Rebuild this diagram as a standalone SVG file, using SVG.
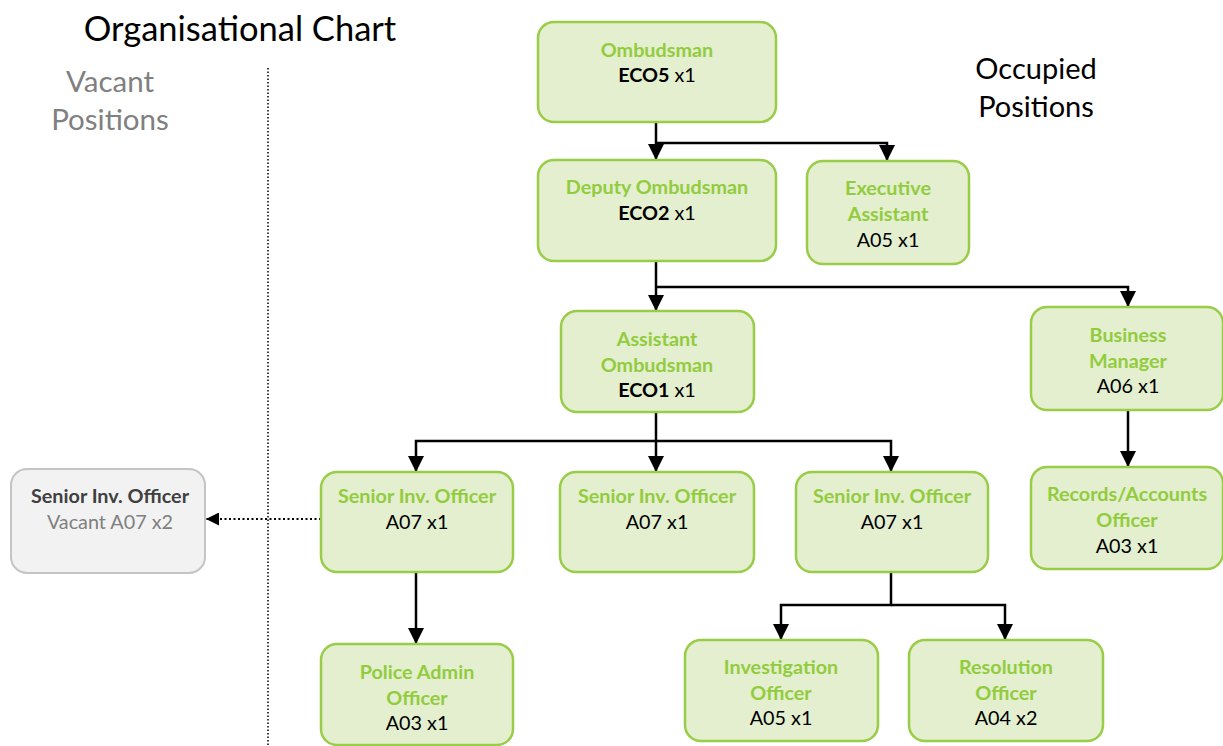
<svg xmlns="http://www.w3.org/2000/svg" width="1223" height="746" viewBox="0 0 1223 746">
<defs>
<style>
.n{fill:#e3efcf;stroke:#99cc47;stroke-width:2.5}
.v{fill:#f2f2f2;stroke:#c4c4c4;stroke-width:2}
text{font-family:Lato,"Liberation Sans",sans-serif;font-size:19.8px;text-anchor:middle}
.t{fill:#92cc3e;font-weight:bold}
.k{fill:#000}
.c{fill:none;stroke:#000;stroke-width:2.5}
.h{font-size:34.5px;fill:#000}
.hg{font-size:29.5px;fill:#808080}
.ho{font-size:29px;fill:#000}
</style>
<marker id="a" viewBox="0 0 10 10" refX="10" refY="5" markerWidth="6.5" markerHeight="6.5" orient="auto" markerUnits="strokeWidth"><path d="M0,0L10,5L0,10z" fill="#000"/></marker>
</defs>
<text class="h" x="240" y="41">Organisational Chart</text>
<text class="hg" x="110" y="92">Vacant</text>
<text class="hg" x="110" y="130">Positions</text>
<text class="ho" x="1036" y="79">Occupied</text>
<text class="ho" x="1036" y="117">Positions</text>
<line x1="268" y1="68" x2="268" y2="746" stroke="#000" stroke-width="1.5" stroke-dasharray="1.5,2"/>
<g id="connectors">
<path class="c" d="M656,122V160" marker-end="url(#a)"/>
<path class="c" d="M656,143H887V161" marker-end="url(#a)"/>
<path class="c" d="M656,261V311" marker-end="url(#a)"/>
<path class="c" d="M656,287H1128V307" marker-end="url(#a)"/>
<path class="c" d="M656,412V472" marker-end="url(#a)"/>
<path class="c" d="M656,441H416V472" marker-end="url(#a)"/>
<path class="c" d="M656,441H891V472" marker-end="url(#a)"/>
<path class="c" d="M1128,410V467" marker-end="url(#a)"/>
<path class="c" d="M416,572V644" marker-end="url(#a)"/>
<path class="c" d="M891,572V605H781V640" marker-end="url(#a)"/>
<path class="c" d="M891,605H1005V640" marker-end="url(#a)"/>
<path d="M321,519H206" fill="none" stroke="#000" stroke-width="2" stroke-dasharray="2,2.5" marker-end="url(#a)"/>
</g>
<g id="ombudsman"><rect class="n" x="538" y="22" width="238" height="100" rx="16"/><text class="t" x="657" y="57">Ombudsman</text><text class="k" x="657" y="82"><tspan font-weight="bold">ECO5</tspan> x1</text></g>
<g id="deputy"><rect class="n" x="538" y="160" width="238" height="101" rx="16"/><text class="t" x="657" y="194">Deputy Ombudsman</text><text class="k" x="657" y="220"><tspan font-weight="bold">ECO2</tspan> x1</text></g>
<g id="exec"><rect class="n" x="807" y="161" width="162" height="103" rx="16"/><text class="t" x="888" y="195">Executive</text><text class="t" x="888" y="221">Assistant</text><text class="k" x="888" y="247">A05 x1</text></g>
<g id="assistant"><rect class="n" x="561" y="311" width="193" height="101" rx="16"/><text class="t" x="657" y="346">Assistant</text><text class="t" x="657" y="372">Ombudsman</text><text class="k" x="657" y="397"><tspan font-weight="bold">ECO1</tspan> x1</text></g>
<g id="business"><rect class="n" x="1031" y="307" width="192" height="103" rx="16"/><text class="t" x="1128" y="342">Business</text><text class="t" x="1128" y="368">Manager</text><text class="k" x="1128" y="393">A06 x1</text></g>
<g id="sio1"><rect class="n" x="321" y="472" width="192" height="100" rx="16"/><text class="t" x="417" y="503">Senior Inv. Officer</text><text class="k" x="417" y="529">A07 x1</text></g>
<g id="sio2"><rect class="n" x="560" y="472" width="194" height="100" rx="16"/><text class="t" x="657" y="503">Senior Inv. Officer</text><text class="k" x="657" y="529">A07 x1</text></g>
<g id="sio3"><rect class="n" x="796" y="472" width="192" height="100" rx="16"/><text class="t" x="892" y="503">Senior Inv. Officer</text><text class="k" x="892" y="529">A07 x1</text></g>
<g id="records"><rect class="n" x="1031" y="467" width="192" height="102" rx="16"/><text class="t" x="1127" y="501">Records/Accounts</text><text class="t" x="1127" y="527">Officer</text><text class="k" x="1127" y="553">A03 x1</text></g>
<g id="police"><rect class="n" x="321" y="644" width="192" height="101" rx="16"/><text class="t" x="417" y="679">Police Admin</text><text class="t" x="417" y="705">Officer</text><text class="k" x="417" y="730">A03 x1</text></g>
<g id="investigation"><rect class="n" x="685" y="640" width="193" height="101" rx="16"/><text class="t" x="781" y="674">Investigation</text><text class="t" x="781" y="700">Officer</text><text class="k" x="781" y="725">A05 x1</text></g>
<g id="resolution"><rect class="n" x="909" y="640" width="194" height="101" rx="16"/><text class="t" x="1006" y="674">Resolution</text><text class="t" x="1006" y="700">Officer</text><text class="k" x="1006" y="725">A04 x2</text></g>
<g id="vacant"><rect class="v" x="11" y="469" width="194" height="104" rx="16"/><text x="110" y="503" fill="#404040" font-weight="bold">Senior Inv. Officer</text><text x="110" y="529" fill="#808080">Vacant A07 x2</text></g>
</svg>
